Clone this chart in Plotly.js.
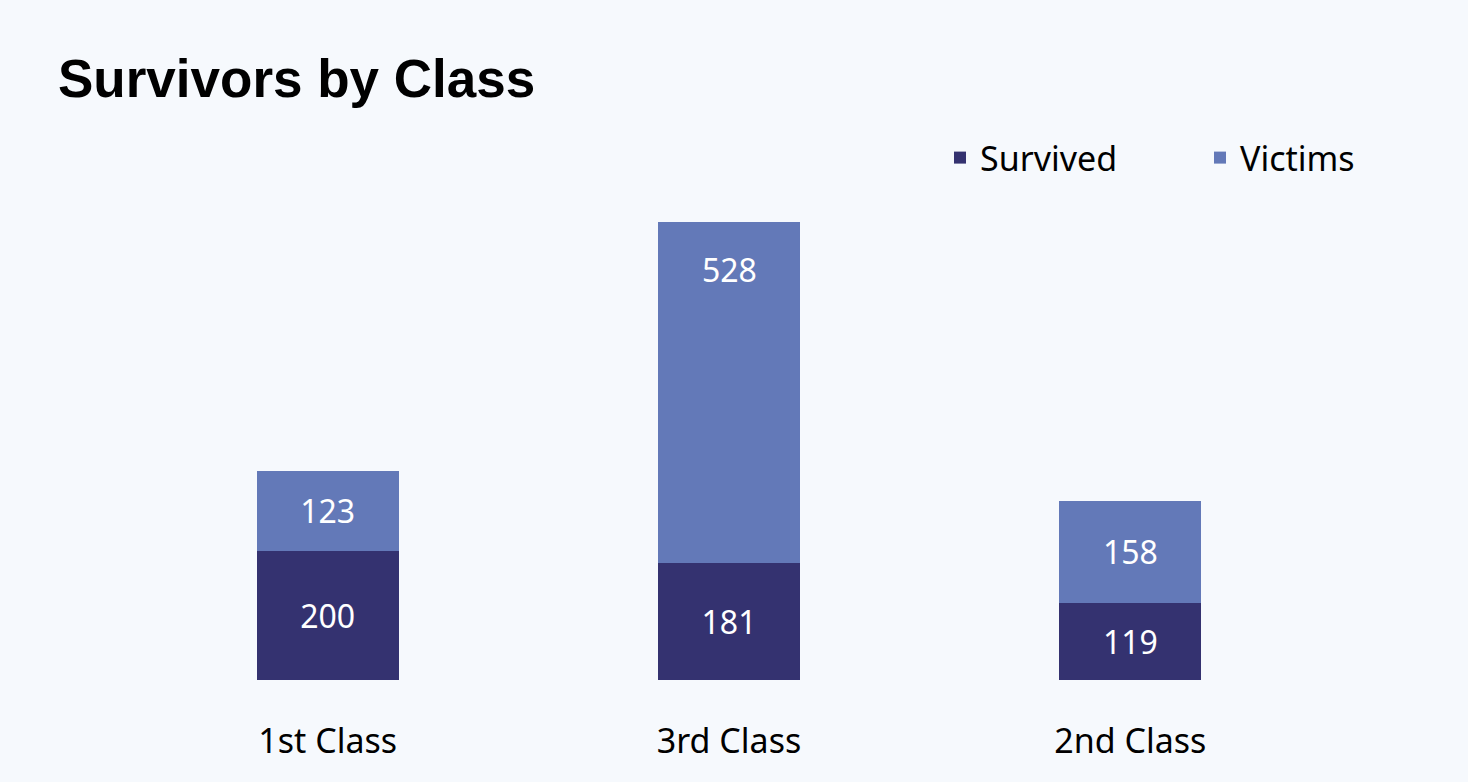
<!DOCTYPE html>
<html>
<head>
<meta charset="utf-8">
<script src="https://cdn.plot.ly/plotly-3.0.1.min.js"></script>
<style>html,body{margin:0;padding:0;background:#fff}</style>
</head>
<body>
<div id="chart" style="width:1468px;height:782px"></div>
<script>
const classes = ['1st Class', '3rd Class', '2nd Class']
const survived = [200, 181, 119]
const victims = [123, 528, 158]

const labelFont = { family: 'Noto Sans, Open Sans, sans-serif', size: 32, color: '#ffffff' }

// the tall 3rd class victims label sits near the top of its segment, as in the source
const victimText = victims.map((v, i) => i === 1 ? '' : String(v))

const data = [
    {
        x: classes, y: survived, type: 'bar', name: 'Survived',
        marker: { color: '#343270' },
        text: survived.map(String), textposition: 'inside', insidetextanchor: 'middle',
        textfont: labelFont, hoverinfo: 'none'
    },
    {
        x: classes, y: victims, type: 'bar', name: 'Victims',
        marker: { color: '#6379B8' },
        text: victimText, textposition: 'inside', insidetextanchor: 'middle',
        textfont: labelFont, hoverinfo: 'none'
    }
]

const layout = {
    width: 1468, height: 782,
    barmode: 'stack',
    bargap: 0.646,
    paper_bgcolor: '#F6F9FD',
    plot_bgcolor: '#F6F9FD',
    margin: { l: 127, r: 137, t: 195, b: 102 },
    title: {
        text: '<b>Survivors by Class</b>',
        font: { family: 'Liberation Sans, Arial, sans-serif', size: 53, color: '#000' },
        x: 58 / 1468, xanchor: 'left', xref: 'container',
        y: 1 - 78 / 782, yanchor: 'middle', yref: 'container'
    },
    showlegend: true,
    legend: {
        orientation: 'h', traceorder: 'normal',
        xref: 'container', yref: 'container',
        x: 940 / 1468, xanchor: 'left', y: 1 - 158 / 782, yanchor: 'middle',
        font: { family: 'Noto Sans, Open Sans, sans-serif', size: 34, color: '#000' },
        bgcolor: 'rgba(0,0,0,0)', entrywidth: 215, entrywidthmode: 'pixels'
    },
    annotations: [{
        x: classes[1], y: survived[1] + victims[1], yshift: -48,
        text: String(victims[1]), showarrow: false, font: labelFont
    }],
    xaxis: {
        tickfont: { family: 'Noto Sans, Open Sans, sans-serif', size: 34, color: '#000' },
        showline: false, ticks: '', showgrid: false, ticklabelstandoff: 38
    },
    yaxis: {
        range: [0, 750], visible: false, showgrid: false, zeroline: false
    }
}

Plotly.newPlot('chart', data, layout, { displayModeBar: false, staticPlot: true })
</script>
</body>
</html>
